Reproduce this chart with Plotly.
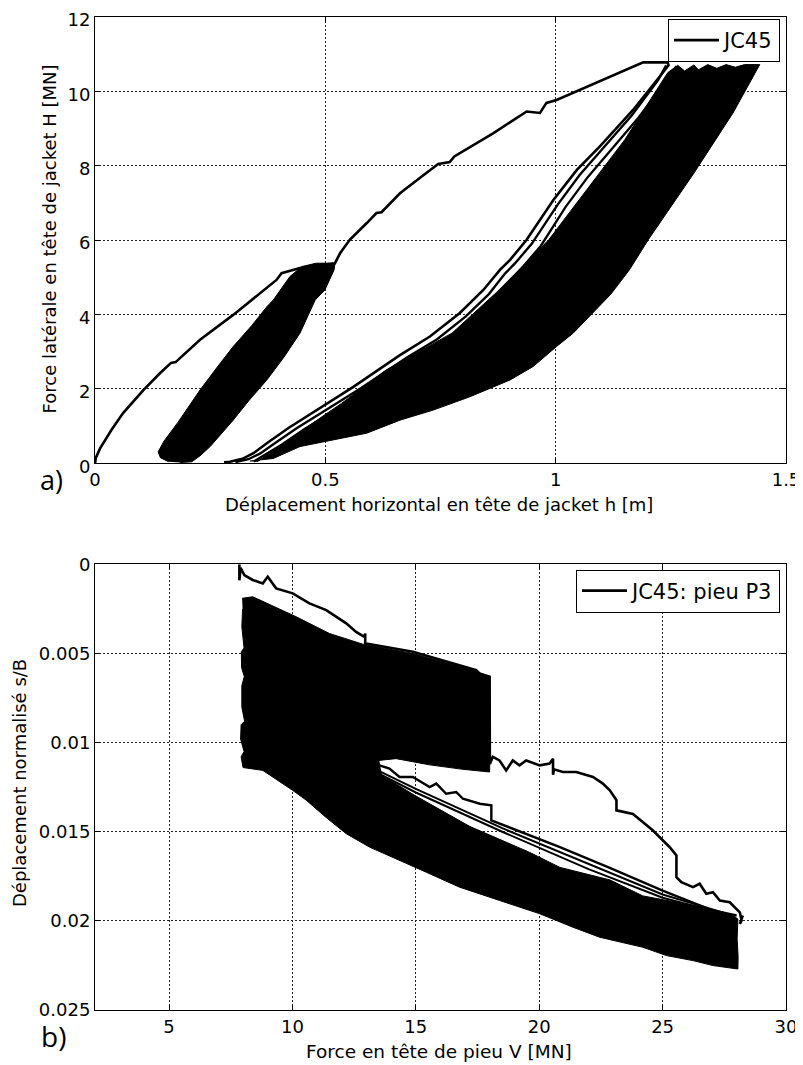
import plotly.graph_objects as go

# ---------------- a) jacket head: H vs h ----------------
# monotonic (virgin) loading path + first outer unloading branch
virgin_h = [0.000, 0.002, 0.011, 0.036, 0.061, 0.105, 0.141, 0.165, 0.175, 0.228, 0.300, 0.394,
            0.405, 0.445, 0.490, 0.521, 0.532, 0.553, 0.590, 0.611, 0.622, 0.662, 0.705, 0.745,
            0.770, 0.780, 0.865, 0.937, 0.966, 0.980, 1.002, 1.096, 1.190, 1.243, 1.245, 1.226,
            1.168, 1.096, 1.046, 0.995, 0.937, 0.901, 0.879, 0.843, 0.792, 0.727, 0.662, 0.560,
            0.481, 0.420, 0.373, 0.344, 0.320, 0.293, 0.280]
virgin_H = [0.00, 0.15, 0.40, 0.90, 1.35, 1.97, 2.42, 2.70, 2.72, 3.32, 3.99, 4.93,
            5.11, 5.25, 5.33, 5.38, 5.65, 6.01, 6.46, 6.73, 6.75, 7.26, 7.67, 8.05,
            8.10, 8.25, 8.88, 9.46, 9.42, 9.69, 9.77, 10.27, 10.78, 10.78, 10.70, 10.40,
            9.50, 8.52, 7.89, 7.08, 6.01, 5.47, 5.20, 4.66, 4.04, 3.41, 2.91, 2.05,
            1.43, 0.95, 0.54, 0.27, 0.12, 0.04, 0.03]

# distinct later unloading/reloading branches
branch1_h = [1.240, 1.222, 1.165, 1.098, 1.052, 1.004, 0.948, 0.912, 0.890, 0.855, 0.805, 0.742,
             0.678, 0.577, 0.497, 0.436, 0.388, 0.358, 0.333, 0.305]
branch1_H = [10.70, 10.30, 9.35, 8.40, 7.75, 6.95, 5.90, 5.38, 5.10, 4.55, 3.95, 3.33,
             2.85, 2.02, 1.40, 0.93, 0.52, 0.26, 0.11, 0.03]
branch2_h = [1.262, 1.235, 1.180, 1.115, 1.070, 1.022, 0.968, 0.930, 0.872, 0.822, 0.760, 0.697,
             0.597, 0.517, 0.455, 0.405, 0.372, 0.345]
branch2_H = [10.68, 10.20, 9.30, 8.35, 7.70, 6.90, 5.85, 5.30, 4.50, 3.92, 3.30, 2.82,
             2.00, 1.38, 0.92, 0.50, 0.24, 0.05]

# envelope of the dense small cycles (first load level)
cyc1_h = [0.160, 0.142, 0.137, 0.150, 0.180, 0.228, 0.265, 0.300, 0.340, 0.373, 0.387, 0.423,
          0.449, 0.480, 0.521, 0.519, 0.499, 0.478, 0.445, 0.410, 0.373, 0.335, 0.300, 0.270,
          0.250, 0.228, 0.210, 0.185]
cyc1_H = [0.04, 0.15, 0.31, 0.60, 1.10, 1.97, 2.58, 3.14, 3.70, 4.21, 4.39, 5.02,
          5.29, 5.38, 5.38, 5.20, 4.66, 4.39, 3.50, 2.85, 2.24, 1.70, 1.16, 0.75,
          0.45, 0.20, 0.04, 0.02]

# envelope of the dense cycles (second load level)
cyc2_h = [0.352, 0.430, 0.535, 0.632, 0.775, 0.872, 0.985, 1.070, 1.150, 1.243, 1.265,
          1.280, 1.300, 1.310, 1.330, 1.350, 1.370, 1.390, 1.410, 1.443,
          1.385, 1.300, 1.201, 1.160, 1.120, 1.085, 1.038, 1.002, 0.951, 0.901, 0.814,
          0.734, 0.662, 0.590, 0.517, 0.445, 0.387, 0.336]
cyc2_H = [0.04, 0.72, 1.61, 2.51, 3.50, 4.60, 6.01, 7.40, 8.70, 10.50, 10.70,
          10.55, 10.71, 10.58, 10.72, 10.62, 10.72, 10.65, 10.72, 10.72,
          9.42, 7.80, 6.01, 5.20, 4.55, 4.10, 3.50, 3.14, 2.60, 2.24, 1.79,
          1.43, 1.16, 0.81, 0.63, 0.45, 0.13, 0.06]

xticks_a = [0, 0.5, 1, 1.5]
xtext_a = ["0", "0.5", "1", "1.5"]
yticks_a = [0, 2, 4, 6, 8, 10, 12]
ytext_a = ["0", "2", "4", "6", "8", "10", "12"]

# ---------------- b) pile P3: s/B vs V ----------------
pile_V = [7.85, 7.85, 7.90, 8.05, 8.39, 8.80, 9.00, 9.34, 10.01, 10.69, 11.37, 11.77, 12.18,
          12.58, 12.92, 12.95, 12.95, 12.97, 14.88, 17.45, 17.58, 17.99, 18.00, 18.12, 18.39,
          18.66, 18.93, 19.20, 19.47, 20.02, 20.42, 20.56, 20.56, 20.60, 20.96, 21.50, 22.18,
          22.58, 22.86, 23.13, 23.13, 23.80, 24.61, 25.15, 25.29, 25.56, 25.56, 25.76, 26.23,
          26.50, 26.77, 27.04, 27.32, 27.72, 28.13, 28.20, 28.13, 28.25]
pile_s = [0.0000, 0.0009, 0.0002, 0.0006, 0.00088, 0.00107, 0.0007, 0.00135, 0.00163, 0.00219,
          0.00257, 0.00294, 0.00331, 0.00379, 0.00407, 0.00388, 0.00450, 0.00444, 0.00491,
          0.00594, 0.00612, 0.00631, 0.0112, 0.0108, 0.0110, 0.01156, 0.0110, 0.01128, 0.0110,
          0.01128, 0.01118, 0.01090, 0.01180, 0.01150, 0.01165, 0.01165, 0.01193, 0.0123,
          0.01268, 0.01323, 0.0138, 0.0140, 0.01493, 0.01567, 0.01587, 0.01633, 0.01755,
          0.01783, 0.01811, 0.01792, 0.01848, 0.01839, 0.01886, 0.01896, 0.01952, 0.01998,
          0.02017, 0.0197]

wave_V = [12.72, 12.85, 13.53, 13.93, 14.34, 14.88, 15.56, 15.83, 16.23, 16.64, 16.91, 17.59,
          17.99, 18.06, 18.06, 20.84, 22.86, 25.00, 27.04, 28.00]
wave_s = [0.01095, 0.01100, 0.01128, 0.01146, 0.01193, 0.01193, 0.01250, 0.01230, 0.01287,
          0.01278, 0.01315, 0.01343, 0.01352, 0.01352, 0.01436, 0.01587, 0.01703, 0.01830,
          0.01942, 0.01970]

lineB_V = [12.70, 15.00, 18.50, 22.00, 25.00, 27.50]
lineB_s = [0.01105, 0.01260, 0.01480, 0.01680, 0.01852, 0.01955]
lineC_V = [12.60, 15.00, 18.50, 22.00, 25.00, 27.50]
lineC_s = [0.01110, 0.01280, 0.01500, 0.01710, 0.01870, 0.01960]

cycp_V = [7.96, 8.39, 10.15, 11.50, 12.85, 14.88, 17.45, 17.92, 17.99, 18.02, 17.99,
          16.91, 15.56, 14.20, 13.50, 13.60, 14.88, 17.18, 19.60, 20.84, 22.86, 24.20,
          26.51, 27.86, 28.05, 28.02, 28.06, 28.05,
          27.05, 26.23, 25.16, 24.20, 22.45, 21.37, 20.02, 18.40, 17.59, 16.77, 15.42,
          14.34, 13.12, 12.18, 11.33, 10.56, 10.01, 8.80, 8.00,
          7.92, 8.04, 7.90, 7.92, 8.06, 7.95, 7.95, 8.05, 7.94, 7.93, 8.04, 7.95, 7.98]
cycp_s = [0.00191, 0.00182, 0.00294, 0.00388, 0.00448, 0.00500, 0.00600, 0.00630, 0.00635,
          0.00900, 0.01165, 0.01150, 0.01125, 0.01090, 0.01100, 0.01180, 0.01290, 0.01470,
          0.01615, 0.01700, 0.01770, 0.01860, 0.01920, 0.01970, 0.01990, 0.02100, 0.02200,
          0.02270,
          0.02251, 0.02223, 0.02195, 0.02148, 0.02092, 0.02036, 0.01960, 0.01886, 0.01848,
          0.01811, 0.01727, 0.01661, 0.01586, 0.01511, 0.01416, 0.01323, 0.01268, 0.01156,
          0.01140,
          0.01080, 0.01050, 0.00980, 0.00900, 0.00880, 0.00800, 0.00680, 0.00630, 0.00580,
          0.00490, 0.00470, 0.00350, 0.00250]

xticks_b = [5, 10, 15, 20, 25, 30]
xtext_b = ["5", "10", "15", "20", "25", "30"]
yticks_b = [0, 0.005, 0.01, 0.015, 0.02, 0.025]
ytext_b = ["0", "0.005", "0.01", "0.015", "0.02", "0.025"]

# ---------------- figure ----------------
# the page body adds an 8 px margin, so the figure is made 8 px smaller and
# every layout position is expressed in window pixels minus that offset
OFF = 8
W, H = 803 - OFF, 1065 - OFF
BLACK = "#000000"
FONT = "DejaVu Sans"


def fx(px):
    return (px - OFF) / W


def fy(py):
    return 1 - (py - OFF) / H


fig = go.Figure()


def poly(x, y, xa, ya):
    fig.add_trace(go.Scatter(x=x, y=y, mode="lines", fill="toself", fillcolor=BLACK,
                             line=dict(color=BLACK, width=1), showlegend=False,
                             hoverinfo="skip", xaxis=xa, yaxis=ya))


def curve(x, y, xa, ya, name=None, legend=None, width=2.6):
    if name:
        kw = dict(name=name, showlegend=True, legend=legend)
    else:
        kw = dict(showlegend=False)
    fig.add_trace(go.Scatter(x=x, y=y, mode="lines", line=dict(color=BLACK, width=width),
                             hoverinfo="skip", xaxis=xa, yaxis=ya, **kw))


# panel a
poly(cyc1_h, cyc1_H, "x", "y")
poly(cyc2_h, cyc2_H, "x", "y")
curve(branch2_h, branch2_H, "x", "y", width=2.3)
curve(branch1_h, branch1_H, "x", "y", width=2.4)
curve(virgin_h, virgin_H, "x", "y", name="JC45", legend="legend")

# panel b
poly(cycp_V, cycp_s, "x2", "y2")
curve(lineC_V, lineC_s, "x2", "y2", width=2.0)
curve(lineB_V, lineB_s, "x2", "y2", width=2.0)
curve(wave_V, wave_s, "x2", "y2", width=2.4)
curve(pile_V, pile_s, "x2", "y2", name="JC45: pieu P3", legend="legend2")

axis_common = dict(showline=True, linecolor=BLACK, linewidth=1, mirror="ticks",
                   ticks="inside", ticklen=5, tickcolor=BLACK, tickwidth=1,
                   showgrid=True, gridcolor="#222222", gridwidth=1, griddash="2px,2px",
                   zeroline=False, tickfont=dict(family=FONT, size=18, color=BLACK),
                   tickmode="array", automargin=False, ticklabeloverflow="allow")

xd = [fx(95.0), fx(786.0)]
leg_common = dict(xanchor="right", yanchor="top", bgcolor="white", bordercolor=BLACK,
                  borderwidth=1, itemwidth=45,
                  font=dict(family=FONT, size=21, color=BLACK))
fig.update_layout(
    width=W, height=H, margin=dict(l=0, r=0, t=0, b=0, pad=0, autoexpand=False),
    paper_bgcolor="white", plot_bgcolor="white",
    font=dict(family=FONT, size=18, color=BLACK),
    xaxis=dict(domain=xd, anchor="y", range=[0, 1.5], tickvals=xticks_a, ticktext=xtext_a,
               **axis_common),
    yaxis=dict(domain=[fy(463.3), fy(17.0)], anchor="x", range=[0, 12],
               tickvals=yticks_a, ticktext=ytext_a, ticklabelshift=3, **axis_common),
    xaxis2=dict(domain=xd, anchor="y2", range=[2, 30], tickvals=xticks_b, ticktext=xtext_b,
                **axis_common),
    yaxis2=dict(domain=[fy(1010.0), fy(564.3)], anchor="x2", range=[0.025, 0],
                tickvals=yticks_b, ticktext=ytext_b, **axis_common),
    legend=dict(x=fx(780.0), y=fy(19.0), **leg_common),
    legend2=dict(x=fx(780.0), y=fy(569.5), **leg_common),
    showlegend=True,
)

ann = [
    dict(text="Déplacement horizontal en tête de jacket h [m]", x=438.5, y=505.0,
         textangle=0, size=18, fam=FONT),
    dict(text="Force latérale en tête de jacket H [MN]", x=48.5, y=239.0,
         textangle=-90, size=18, fam=FONT),
    dict(text="Force en tête de pieu V [MN]", x=438.5, y=1051.0,
         textangle=0, size=18.5, fam=FONT),
    dict(text="Déplacement normalisé s/B", x=19.0, y=783.0,
         textangle=-90, size=18, fam=FONT),
    dict(text="a)", x=51.0, y=479.0, textangle=0, size=27, fam="Open Sans"),
    dict(text="b)", x=53.0, y=1036.0, textangle=0, size=28, fam="Open Sans"),
]
for a in ann:
    fig.add_annotation(text=a["text"], x=fx(a["x"]), y=fy(a["y"]), xref="paper", yref="paper",
                       xanchor="center", yanchor="middle", showarrow=False,
                       textangle=a["textangle"],
                       font=dict(family=a["fam"], size=a["size"], color=BLACK))

fig.write_html("out.html")
